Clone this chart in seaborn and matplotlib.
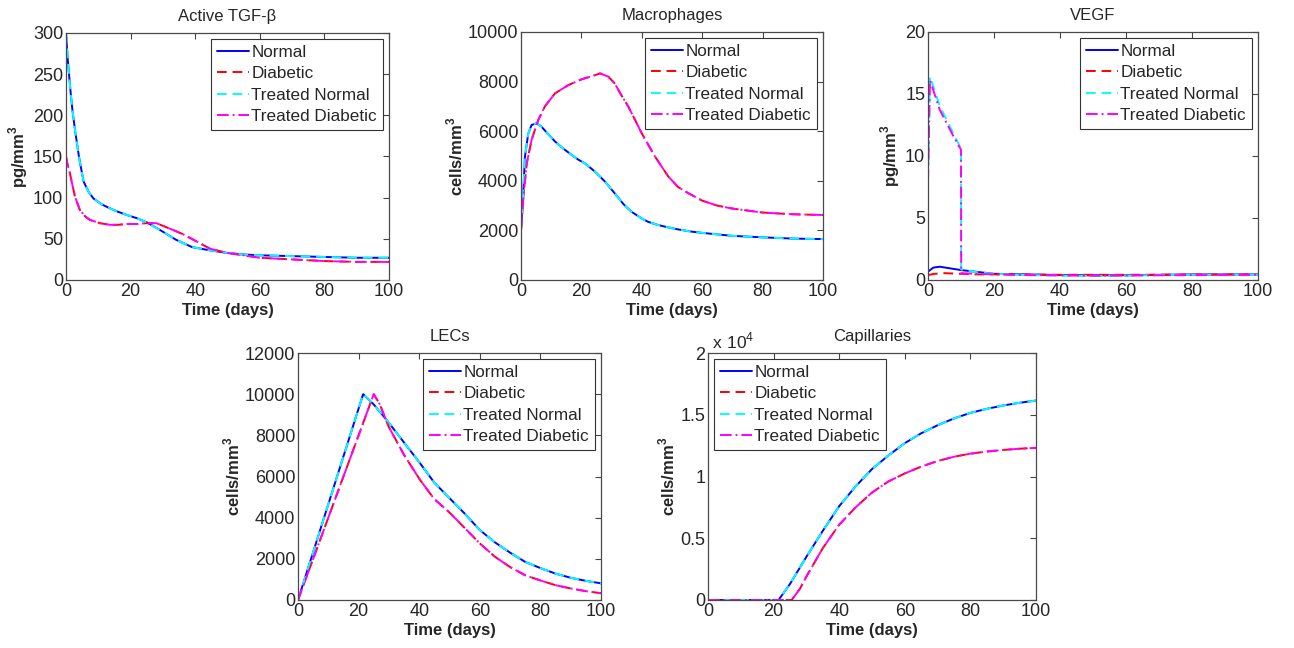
import numpy as np
import pandas as pd
import seaborn as sns
import matplotlib
matplotlib.use('Agg')
import matplotlib.pyplot as plt
from matplotlib.ticker import FuncFormatter

sns.set_style('white')
plt.rcParams['font.family'] = ['Liberation Sans', 'DejaVu Sans']
plt.rcParams['mathtext.fontset'] = 'custom'
plt.rcParams['mathtext.rm'] = 'Liberation Sans'
plt.rcParams['mathtext.bf'] = 'Liberation Sans:bold'

# ---------------- DATA ----------------
labels = ['Normal', 'Diabetic', 'Treated Normal', 'Treated Diabetic']

# Active TGF-beta (pg/mm^3)
tgf_t_normal = [0, 0.5, 1, 1.5, 2, 2.8, 4, 5.4, 7, 8.5, 11, 13.6, 16, 18.8, 22, 25, 29, 34, 39, 44.6, 49.7, 55, 60, 70, 80, 90, 100]
tgf_normal = [300, 270, 247, 225, 206, 182, 150, 120, 107, 99, 92, 87, 83, 79, 75, 70, 61, 49, 40, 36, 33, 31, 30, 29, 28, 27, 27]
tgf_t_diab = [0, 0.5, 1.2, 2, 2.8, 4.3, 6, 7.4, 9, 10.5, 13.6, 16, 18.8, 22, 25, 28, 33, 36, 39.4, 44.6, 49.7, 55, 60, 70, 80, 90, 100]
tgf_diab = [150, 140, 130, 115, 101, 85, 77, 73, 71, 69, 67, 67, 68, 68, 69, 69, 61, 56, 49, 38, 33, 30, 27, 25, 23, 22, 22]

# Macrophages (cells/mm^3)
mac_t_normal = [0, 0.8, 1.3, 2.4, 3.5, 5.2, 6.8, 9, 11.3, 14, 16.8, 19, 21.2, 24.5, 27.8, 31, 34, 36.6, 40, 42, 45, 47.7, 52, 56.5, 60, 70, 80, 90, 100]
mac_normal = [2000, 3630, 4970, 5900, 6250, 6320, 6180, 5880, 5580, 5300, 5040, 4850, 4700, 4370, 3970, 3500, 3050, 2750, 2480, 2350, 2230, 2150, 2040, 1950, 1900, 1780, 1720, 1670, 1650]
mac_t_diab = [0, 0.8, 1.9, 3.5, 5.7, 7.9, 11.3, 15.7, 20, 23, 26.2, 28.9, 31, 33, 35.5, 38, 40, 44.4, 48.8, 52, 55.4, 60, 65, 70, 80, 90, 100]
mac_diab = [2000, 3360, 4700, 5650, 6450, 7000, 7530, 7860, 8090, 8200, 8330, 8200, 7930, 7500, 7000, 6400, 5910, 4970, 4170, 3750, 3500, 3200, 3000, 2880, 2720, 2650, 2620]

# VEGF (pg/mm^3)
vegf_t_normal = [0, 1.6, 3.6, 6.7, 10, 15, 20, 30, 40, 50, 60, 70, 80, 100]
vegf_normal = [0.67, 1.0, 1.07, 0.94, 0.8, 0.65, 0.5, 0.45, 0.4, 0.38, 0.38, 0.42, 0.45, 0.45]
vegf_t_diab = [0, 2, 5, 10, 15, 20, 40, 60, 100]
vegf_diab = [0.4, 0.5, 0.55, 0.5, 0.45, 0.45, 0.42, 0.42, 0.45]
vegf_t_tnormal = [0, 0.6, 3.6, 7.7, 10, 10.05, 15, 20, 30, 40, 50, 60, 70, 80, 100]
vegf_tnormal = [8.0, 16.4, 14.0, 11.8, 10.6, 0.85, 0.62, 0.5, 0.4, 0.35, 0.32, 0.35, 0.4, 0.42, 0.43]
vegf_t_tdiab = [0, 0.6, 3.6, 7.7, 10, 10.05, 15, 20, 30, 50, 100]
vegf_tdiab = [8.0, 16.1, 13.7, 11.6, 10.5, 0.55, 0.5, 0.45, 0.4, 0.35, 0.42]

# LECs (cells/mm^3)
lec_t_normal = [0, 21.5, 25, 29.3, 35, 40.3, 45, 50, 55, 60, 65, 70, 75, 80, 85, 90, 95, 100]
lec_normal = [0, 10000, 9500, 8740, 7650, 6640, 5700, 4950, 4200, 3400, 2800, 2300, 1850, 1550, 1280, 1080, 930, 810]
lec_t_diab = [0, 25, 27, 30, 35, 40.3, 45, 50, 55, 60, 65, 70, 75, 80, 85, 90, 95, 100]
lec_diab = [0, 10000, 9500, 8400, 7050, 5830, 4900, 4250, 3500, 2750, 2100, 1600, 1200, 950, 720, 560, 430, 330]

# Capillaries (cells/mm^3)
cap_t_normal = [0, 21.5, 25, 30, 35, 40, 45, 50, 55, 60, 65, 70, 75, 80, 85, 90, 95, 100]
cap_normal = [0, 0, 1300, 3500, 5600, 7600, 9200, 10600, 11700, 12700, 13500, 14150, 14700, 15150, 15480, 15750, 15970, 16150]
cap_t_diab = [0, 25.5, 28, 30, 35, 40, 45, 50, 55, 60, 65, 70, 75, 80, 85, 90, 95, 100]
cap_diab = [0, 0, 900, 1900, 4200, 6100, 7500, 8700, 9600, 10250, 10800, 11250, 11600, 11850, 12020, 12150, 12250, 12320]

styles = [
    dict(color='#0000ff', linestyle='-'),
    dict(color='#ff0000', linestyle=(0, (5, 3))),
    dict(color='#00ffff', linestyle=(0, (5, 3))),
    dict(color='#ff00ff', linestyle=(0, (6, 2, 1, 2))),
]

panels = [
    dict(title='Active TGF-β', ylabel=r'pg/mm$^\mathbf{3}$', ylim=(0, 300), yticks=[0, 50, 100, 150, 200, 250, 300],
         series=[(tgf_t_normal, tgf_normal), (tgf_t_diab, tgf_diab), (tgf_t_normal, tgf_normal), (tgf_t_diab, tgf_diab)],
         rect=[66, 33, 389, 280], loc='upper right'),
    dict(title='Macrophages', ylabel=r'cells/mm$^\mathbf{3}$', ylim=(0, 10000), yticks=[0, 2000, 4000, 6000, 8000, 10000],
         series=[(mac_t_normal, mac_normal), (mac_t_diab, mac_diab), (mac_t_normal, mac_normal), (mac_t_diab, mac_diab)],
         rect=[521, 32, 823, 280], loc='upper right'),
    dict(title='VEGF', ylabel=r'pg/mm$^\mathbf{3}$', ylim=(0, 20), yticks=[0, 5, 10, 15, 20],
         series=[(vegf_t_normal, vegf_normal), (vegf_t_diab, vegf_diab), (vegf_t_tnormal, vegf_tnormal), (vegf_t_tdiab, vegf_tdiab)],
         rect=[928, 32, 1258, 280], loc='upper right'),
    dict(title='LECs', ylabel=r'cells/mm$^\mathbf{3}$', ylim=(0, 12000), yticks=[0, 2000, 4000, 6000, 8000, 10000, 12000],
         series=[(lec_t_normal, lec_normal), (lec_t_diab, lec_diab), (lec_t_normal, lec_normal), (lec_t_diab, lec_diab)],
         rect=[298, 353, 601, 600], loc='upper right'),
    dict(title='Capillaries', ylabel=r'cells/mm$^\mathbf{3}$', ylim=(0, 20000), yticks=[0, 5000, 10000, 15000, 20000],
         series=[(cap_t_normal, cap_normal), (cap_t_diab, cap_diab), (cap_t_normal, cap_normal), (cap_t_diab, cap_diab)],
         rect=[708, 353, 1036, 600], loc='upper left'),
]

W, H = 1294, 648
fig = plt.figure(figsize=(W / 100, H / 100), dpi=100)

for p in panels:
    x0, y0, x1, y1 = p['rect']
    ax = fig.add_axes([x0 / W, 1 - y1 / H, (x1 - x0) / W, (y1 - y0) / H])
    for (t, v), lab, st in zip(p['series'], labels, styles):
        sns.lineplot(x=t, y=v, ax=ax, label=lab, estimator=None, sort=False, linewidth=1.4, **st)
    ax.set_xlim(0, 100)
    ax.set_ylim(*p['ylim'])
    ax.set_xticks([0, 20, 40, 60, 80, 100])
    ax.set_yticks(p['yticks'])
    if p['title'] == 'Capillaries':
        ax.yaxis.set_major_formatter(FuncFormatter(lambda v, pos: '%g' % (v / 1e4)))
        ax.text(0.0, 1.005, r' x 10$^{4}$', transform=ax.transAxes, fontsize=12.5, va='bottom', ha='left')
    ax.tick_params(direction='in', top=True, right=True, labelsize=13, length=4, color='#444444', pad=2)
    for s in ax.spines.values():
        s.set_color('#4a4a4a')
        s.set_linewidth(0.9)
    ax.set_title(p['title'], fontsize=12, pad=8.5)
    ax.set_xlabel('Time (days)', fontsize=12, fontweight='bold', labelpad=2.5)
    ax.set_ylabel(p['ylabel'], fontsize=12, fontweight='bold', labelpad=2)
    leg = ax.legend(loc=p['loc'], fontsize=12.3, frameon=True, fancybox=False, framealpha=1,
                    edgecolor='#333333', borderpad=0.35, labelspacing=0.38, handlelength=1.85,
                    handletextpad=0.15, borderaxespad=0.35)
    leg.get_frame().set_linewidth(0.8)

fig.savefig('out.png', dpi=100)
